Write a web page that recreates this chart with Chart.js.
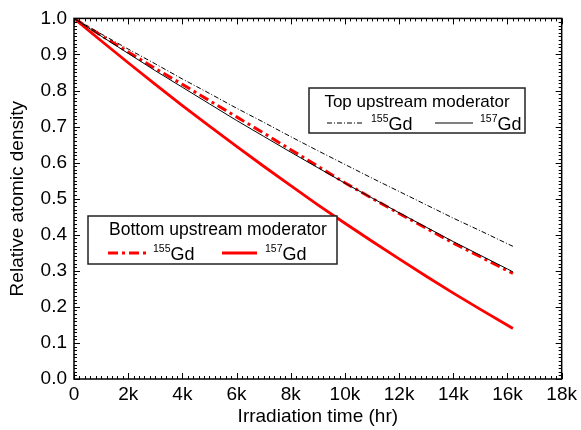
<!DOCTYPE html>
<html>
<head>
<meta charset="utf-8">
<script src="https://cdn.jsdelivr.net/npm/chart.js@4/dist/chart.umd.min.js"></script>
<style>
  html, body { margin: 0; padding: 0; background: #fff; }
  #wrap { width: 581px; height: 430px; }
</style>
</head>
<body>
<div id="wrap"><canvas id="c" width="581" height="430"></canvas></div>
<script>
// Irradiation time (hours)
const timeHr = [0, 1000, 2000, 3000, 4000, 5000, 6000, 7000, 8000, 9000, 10000,
                11000, 12000, 13000, 14000, 15000, 16000, 16200];

// Relative atomic density, top upstream moderator
const topGd155 = [1.000, 0.957, 0.915, 0.874, 0.832, 0.792, 0.751, 0.712, 0.672,
                  0.633, 0.595, 0.557, 0.520, 0.483, 0.446, 0.411, 0.375, 0.368];
const topGd157 = [1.000, 0.951, 0.903, 0.855, 0.809, 0.763, 0.717, 0.673, 0.629,
                  0.586, 0.543, 0.502, 0.461, 0.421, 0.381, 0.343, 0.305, 0.297];

// Relative atomic density, bottom upstream moderator
const bottomGd155 = [1.000, 0.953, 0.907, 0.861, 0.817, 0.772, 0.727, 0.682, 0.636,
                     0.590, 0.544, 0.501, 0.459, 0.418, 0.377, 0.339, 0.300, 0.293];
const bottomGd157 = [1.000, 0.938, 0.877, 0.817, 0.758, 0.701, 0.645, 0.590, 0.536,
                     0.483, 0.432, 0.382, 0.333, 0.285, 0.238, 0.193, 0.149, 0.140];

const xTickValues = [0, 2000, 4000, 6000, 8000, 10000, 12000, 14000, 16000, 18000];
const xTickLabels = ['0', '2k', '4k', '6k', '8k', '10k', '12k', '14k', '16k', '18k'];
const yTickLabels = ['0.0', '0.1', '0.2', '0.3', '0.4', '0.5', '0.6', '0.7', '0.8', '0.9', '1.0'];

const FONT = '"Liberation Sans", Arial, Helvetica, sans-serif';
const RED = '#ff0000';

const pts = ys => timeHr.map((t, i) => ({ x: t, y: ys[i] }));

// Frame, inward ticks on all four sides, and the two legend boxes
const framePlugin = {
  id: 'frame',
  afterDraw(chart) {
    const { ctx, chartArea: { left, right, top, bottom }, scales: { x, y } } = chart;
    ctx.save();
    ctx.strokeStyle = '#000';
    ctx.lineWidth = 1;
    ctx.beginPath();
    for (let i = 0; i <= 90; i++) {
      const px = Math.round(x.getPixelForValue(i * 200)) + 0.5;
      const len = i % 10 === 0 ? 6 : 3;
      ctx.moveTo(px, bottom); ctx.lineTo(px, bottom - len);
      ctx.moveTo(px, top); ctx.lineTo(px, top + len);
    }
    for (let i = 0; i <= 100; i++) {
      const py = Math.round(y.getPixelForValue(i / 100)) + 0.5;
      const len = i % 10 === 0 ? 6 : 3;
      ctx.moveTo(left, py); ctx.lineTo(left + len, py);
      ctx.moveTo(right, py); ctx.lineTo(right - len, py);
    }
    ctx.stroke();
    ctx.lineWidth = 1.5;
    ctx.strokeRect(left, top, right - left, bottom - top);

    const drawIso = (mass, xPos, yMid) => {
      ctx.fillStyle = '#000';
      ctx.textBaseline = 'alphabetic';
      ctx.textAlign = 'left';
      ctx.font = '10.5px ' + FONT;
      ctx.fillText(mass, xPos, yMid - 1);
      const w = ctx.measureText(mass).width;
      ctx.font = '18px ' + FONT;
      ctx.fillText('Gd', xPos + w, yMid + 7);
    };
    const sample = (x0, x1, yy, color, width, dash) => {
      ctx.beginPath();
      ctx.strokeStyle = color;
      ctx.lineWidth = width;
      ctx.setLineDash(dash);
      ctx.moveTo(x0, yy); ctx.lineTo(x1, yy);
      ctx.stroke();
      ctx.setLineDash([]);
    };

    // Top upstream moderator legend
    ctx.fillStyle = '#fff';
    ctx.fillRect(309, 88, 216, 45);
    ctx.strokeStyle = '#222';
    ctx.lineWidth = 1.5;
    ctx.strokeRect(309, 88, 216, 45);
    ctx.fillStyle = '#000';
    ctx.font = '17px ' + FONT;
    ctx.textAlign = 'center';
    ctx.textBaseline = 'middle';
    ctx.fillText('Top upstream moderator', 417, 102);
    sample(327, 364, 123, '#000', 1, [5, 2, 1, 2]);
    drawIso('155', 371, 123);
    sample(435, 473, 123, '#000', 1, []);
    drawIso('157', 480, 123);

    // Bottom upstream moderator legend
    ctx.fillStyle = '#fff';
    ctx.fillRect(88, 216, 249, 48);
    ctx.strokeStyle = '#222';
    ctx.lineWidth = 1.5;
    ctx.strokeRect(88, 216, 249, 48);
    ctx.fillStyle = '#000';
    ctx.font = '17.5px ' + FONT;
    ctx.textAlign = 'left';
    ctx.textBaseline = 'middle';
    ctx.fillText('Bottom upstream moderator', 109, 230);
    sample(108, 146, 253, RED, 3, [10, 4, 3, 4]);
    drawIso('155', 153, 253);
    sample(222, 257, 253, RED, 3, []);
    drawIso('157', 265, 253);
    ctx.restore();
  }
};

new Chart(document.getElementById('c'), {
  type: 'line',
  data: {
    datasets: [
      { label: 'Top 155Gd', data: pts(topGd155), borderColor: '#000', borderWidth: 1, borderDash: [5, 2, 1, 2] },
      { label: 'Top 157Gd', data: pts(topGd157), borderColor: '#000', borderWidth: 1 },
      { label: 'Bottom 155Gd', data: pts(bottomGd155), borderColor: RED, borderWidth: 3, borderDash: [10, 4, 3, 4] },
      { label: 'Bottom 157Gd', data: pts(bottomGd157), borderColor: RED, borderWidth: 2.8 }
    ]
  },
  options: {
    responsive: false,
    animation: false,
    events: [],
    elements: { point: { radius: 0 }, line: { tension: 0, fill: false } },
    layout: { padding: { left: 0, right: 18, top: 18, bottom: 0 } },
    plugins: { legend: { display: false }, tooltip: { enabled: false } },
    scales: {
      x: {
        type: 'linear', min: 0, max: 18000,
        afterFit: s => { s.height = 51; },
        afterBuildTicks: s => { s.ticks = xTickValues.map(v => ({ value: v })); },
        grid: { display: false, drawTicks: false },
        border: { display: false },
        ticks: {
          autoSkip: false, maxRotation: 0, padding: 4, color: '#000',
          font: { family: FONT, size: 19 },
          callback: (v, i) => xTickLabels[i]
        },
        title: { display: true, text: 'Irradiation time (hr)', color: '#000',
                 font: { family: FONT, size: 19 }, padding: { top: 0, bottom: 2 } }
      },
      y: {
        type: 'linear', min: 0, max: 1,
        afterFit: s => { s.width = 74; },
        afterBuildTicks: s => { s.ticks = yTickLabels.map((t, i) => ({ value: i / 10 })); },
        grid: { display: false, drawTicks: false },
        border: { display: false },
        ticks: {
          autoSkip: false, padding: 7, color: '#000',
          font: { family: FONT, size: 19 },
          callback: (v, i) => yTickLabels[i]
        },
        title: { display: true, text: 'Relative atomic density', color: '#000',
                 font: { family: FONT, size: 19 }, padding: { top: 6, bottom: 0 } }
      }
    }
  },
  plugins: [framePlugin]
});
</script>
</body>
</html>
